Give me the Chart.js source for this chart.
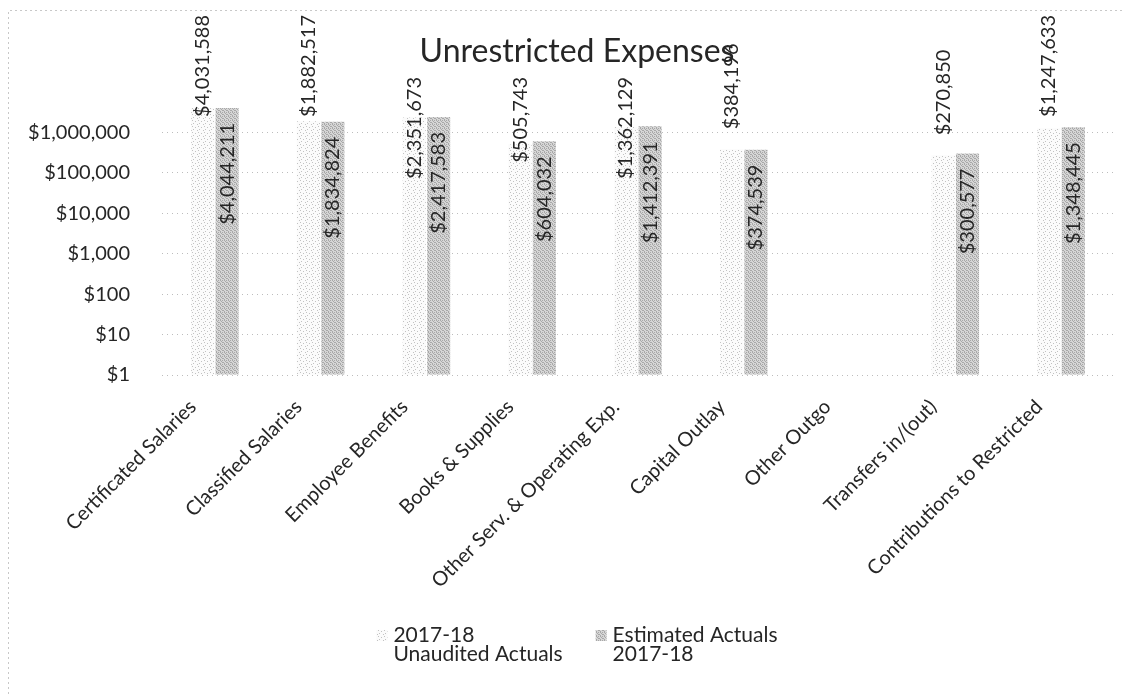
<!DOCTYPE html>
<html>
<head>
<meta charset="utf-8">
<script src="https://cdn.jsdelivr.net/npm/chart.js@4.4.1/dist/chart.umd.min.js"></script>
<style>
  html, body { margin: 0; padding: 0; background: #ffffff; }
  #wrap { width: 1124px; height: 694px; position: relative; }
</style>
</head>
<body>
<div id="wrap"><canvas id="c" width="1124" height="694"></canvas></div>
<script>
// ---- Data ----
const chartTitle = 'Unrestricted Expenses';
const categories = [
  'Certificated Salaries', 'Classified Salaries', 'Employee Benefits', 'Books & Supplies',
  'Other Serv. & Operating Exp.', 'Capital Outlay', 'Other Outgo', 'Transfers in/(out)',
  'Contributions to Restricted'
];
const seriesNames = ['2017-18 Unaudited Actuals', 'Estimated Actuals 2017-18'];
const seriesLegendLines = [['2017-18', 'Unaudited Actuals'], ['Estimated Actuals', '2017-18']];
const unauditedActuals = [4031588, 1882517, 2351673, 505743, 1362129, 384196, null, 270850, 1247633];
const estimatedActuals = [4044211, 1834824, 2417583, 604032, 1412391, 374539, null, 300577, 1348445];
const yTickValues = [1, 10, 100, 1000, 10000, 100000, 1000000];
const yMin = 1, yMax = 10000000;

// ---- Styles ----
const FONT = 'Lato, "Noto Sans", sans-serif';
const TEXT = '#262626';
const TITLE_SIZE = 32, LABEL_SIZE = 20, LEGEND_SIZE = 21;
const TITLE_CX = 577, TITLE_BASE = 62;

function makePattern(base, dot, bits) {
  const n = bits.length;
  const cv = document.createElement('canvas');
  cv.width = n; cv.height = n;
  const g = cv.getContext('2d');
  g.fillStyle = base; g.fillRect(0, 0, n, n);
  g.fillStyle = dot;
  for (let r = 0; r < n; r++) for (let c = 0; c < n; c++) if (bits[r][c] === '1') g.fillRect(c, r, 1, 1);
  return g.createPattern(cv, 'repeat');
}
const faintFill = makePattern('#fbfbfb', '#c2c2c2', [
  '100000', '000100', '000000', '010000', '000001', '000000']);
const greyFill = makePattern('#d6d6d6', '#a8a8a8', [
  '1010', '0100', '0011', '1000']);

const fmt = v => '$' + Number(v).toLocaleString('en-US');

const titlePlugin = {
  id: 'titleDraw',
  afterDraw(chart) {
    const ctx = chart.ctx;
    ctx.save();
    ctx.font = TITLE_SIZE + 'px ' + FONT;
    ctx.fillStyle = TEXT;
    ctx.textAlign = 'center';
    ctx.textBaseline = 'alphabetic';
    ctx.fillText(chartTitle, TITLE_CX, TITLE_BASE);
    ctx.restore();
  }
};

const labelPlugin = {
  id: 'barLabels',
  afterDatasetsDraw(chart) {
    const ctx = chart.ctx;
    ctx.save();
    ctx.font = TITLE_SIZE + 'px ' + FONT;
    const tw = ctx.measureText(chartTitle).width;
    const titleBox = { x0: TITLE_CX - tw / 2, x1: TITLE_CX + tw / 2, y1: TITLE_BASE + 6 };
    ctx.font = LABEL_SIZE + 'px ' + FONT;
    ctx.fillStyle = TEXT;
    ctx.textAlign = 'left';
    ctx.textBaseline = 'middle';
    chart.data.datasets.forEach((ds, i) => {
      const meta = chart.getDatasetMeta(i);
      meta.data.forEach((el, j) => {
        const v = ds.data[j];
        if (v === null || v === undefined) return;
        const txt = fmt(v);
        const w = ctx.measureText(txt).width;
        let top, bottom;
        if (i === 0) {
          bottom = el.y - 20;
          top = bottom - w;
          if (top < 15) { top = 15; }
          const overlapX = el.x + 10 > titleBox.x0 && el.x - 10 < titleBox.x1 - 25;
          if (overlapX && top < titleBox.y1) { top = titleBox.y1 + 9; }
          bottom = top + w;
        } else {
          top = el.y + 15;
          bottom = top + w;
        }
        ctx.save();
        ctx.translate(el.x, bottom);
        ctx.rotate(-Math.PI / 2);
        ctx.fillText(txt, 0, 0);
        ctx.restore();
      });
    });
    ctx.restore();
  }
};

const legendPlugin = {
  id: 'legendDraw',
  afterDraw(chart) {
    const ctx = chart.ctx;
    ctx.save();
    ctx.font = LEGEND_SIZE + 'px ' + FONT;
    ctx.textBaseline = 'alphabetic';
    ctx.textAlign = 'left';
    const sw = 11, gapS = 6, gapItems = 33;
    const items = chart.data.datasets.map((ds, i) => {
      const lines = seriesLegendLines[i];
      const tw = Math.max(...lines.map(l => ctx.measureText(l).width));
      return { lines, fill: ds.backgroundColor, width: sw + gapS + tw };
    });
    const total = items.reduce((a, b) => a + b.width, 0) + gapItems * (items.length - 1);
    let x = 577 - total / 2;
    const y1 = 642, lh = 19;
    items.forEach(it => {
      ctx.fillStyle = it.fill;
      ctx.fillRect(x, 630, sw, sw);
      ctx.fillStyle = TEXT;
      it.lines.forEach((l, k) => ctx.fillText(l, x + sw + gapS, y1 + k * lh));
      x += it.width + gapItems;
    });
    ctx.restore();
  }
};

const framePlugin = {
  id: 'frame',
  beforeDraw(chart) {
    const ctx = chart.ctx;
    ctx.save();
    ctx.fillStyle = '#ffffff';
    ctx.fillRect(0, 0, chart.width, chart.height);
    ctx.strokeStyle = '#c8c8c8';
    ctx.lineWidth = 1;
    ctx.setLineDash([2, 3]);
    ctx.beginPath();
    ctx.moveTo(8.5, chart.height);
    ctx.lineTo(8.5, 10.5);
    ctx.lineTo(chart.width, 10.5);
    ctx.stroke();
    ctx.restore();
  }
};

new Chart(document.getElementById('c'), {
  type: 'bar',
  data: {
    labels: categories,
    datasets: [
      { label: seriesNames[0], data: unauditedActuals, backgroundColor: faintFill, base: yMin,
        categoryPercentage: 0.46, barPercentage: 0.95 },
      { label: seriesNames[1], data: estimatedActuals, backgroundColor: greyFill, base: yMin,
        categoryPercentage: 0.46, barPercentage: 0.95 }
    ]
  },
  options: {
    responsive: false,
    animation: false,
    devicePixelRatio: 1,
    layout: { padding: { top: 92, right: 10, left: 0, bottom: 0 } },
    plugins: {
      legend: { display: false },
      title: { display: false },
      tooltip: { enabled: false }
    },
    scales: {
      x: {
        grid: { display: false, drawTicks: false },
        border: { display: false },
        ticks: {
          color: TEXT,
          font: { family: FONT, size: LABEL_SIZE },
          minRotation: 45, maxRotation: 45,
          padding: 20,
          labelOffset: -22,
          autoSkip: false
        },
        afterFit(s) { s.height = 694 - 375; }
      },
      y: {
        type: 'logarithmic',
        min: yMin, max: yMax,
        afterBuildTicks(s) { s.ticks = yTickValues.map(v => ({ value: v })); },
        afterFit(s) { s.width = 162; },
        grid: { color: '#bdbdbd', drawTicks: false },
        border: { display: false, dash: [1, 4] },
        ticks: {
          color: TEXT,
          font: { family: FONT, size: LABEL_SIZE },
          padding: 32,
          callback: v => fmt(v)
        }
      }
    }
  },
  plugins: [framePlugin, labelPlugin, titlePlugin, legendPlugin]
});
</script>
</body>
</html>
